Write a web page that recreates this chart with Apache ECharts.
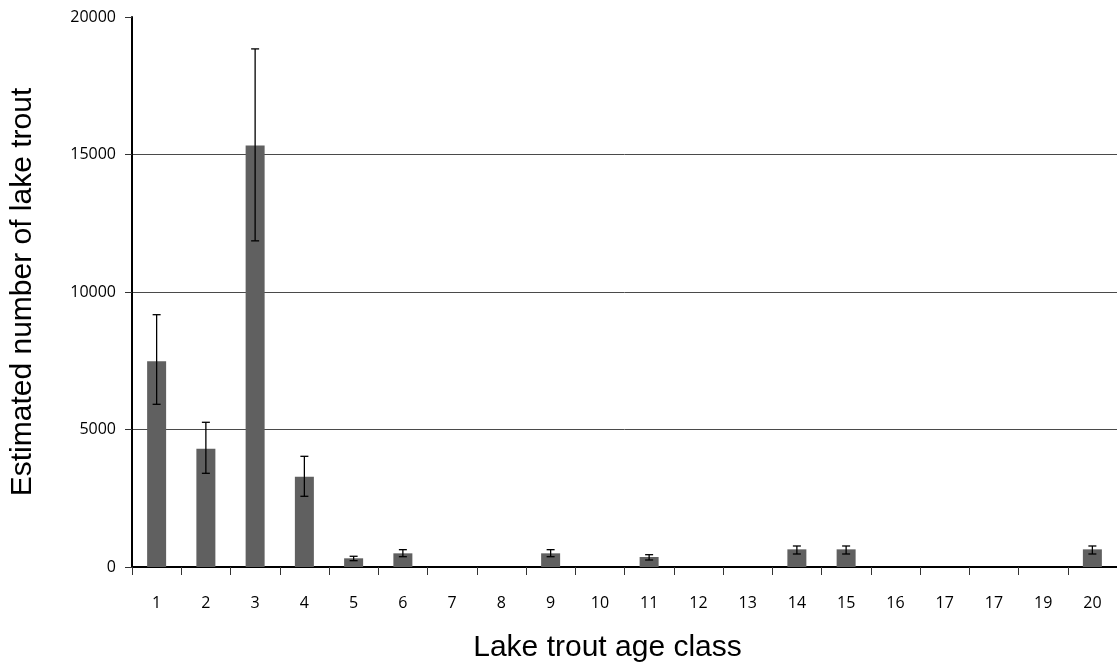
<!DOCTYPE html>
<html>
<head>
<meta charset="utf-8">
<script src="https://cdn.jsdelivr.net/npm/echarts@6/dist/echarts.min.js"></script>
<style>
html,body{margin:0;padding:0;background:#fff;}
#chart{width:1117px;height:666px;}
</style>
</head>
<body>
<div id="chart"></div>
<script>
const categories = ['1','2','3','4','5','6','7','8','9','10','11','12','13','14','15','16','17','17','19','20'];
const estimates  = [7480, 4300, 15330, 3280, 316, 497, 0, 0, 497, 0, 364, 0, 0, 642, 642, 0, 0, 0, 0, 642];
const lowerCI    = [5916, 3407, 11860, 2571, 230, 375, null, null, 375, null, 255, null, null, 473, 473, null, null, null, null, 473];
const upperCI    = [9175, 5262, 18840, 4025, 390, 630, null, null, 630, null, 448, null, null, 764, 764, null, null, null, null, 764];
const yTicks = [0, 5000, 10000, 15000, 20000];

const errData = [];
categories.forEach((c, i) => {
  if (lowerCI[i] != null && upperCI[i] != null) errData.push([i, lowerCI[i], upperCI[i]]);
});

const chart = echarts.init(document.getElementById('chart'));
chart.setOption({
  animation: false,
  backgroundColor: '#ffffff',
  grid: { left: 132, right: 0, top: 17, bottom: 99, containLabel: false, outerBoundsMode: 'none' },
  xAxis: {
    type: 'category',
    data: categories,
    name: 'Lake trout age class',
    nameLocation: 'middle',
    nameGap: 66,
    nameTextStyle: { fontFamily: 'Liberation Sans, Arial', fontSize: 30, color: '#000', padding: [0, 34, 0, 0] },
    axisLine: { lineStyle: { color: '#000', width: 2 } },
    axisTick: { show: true, length: 8, lineStyle: { color: '#333', width: 1 } },
    axisLabel: { fontFamily: 'Open Sans, Noto Sans, sans-serif', fontSize: 16, color: '#000', margin: 28, interval: 0 },
    splitLine: { show: false }
  },
  yAxis: {
    type: 'value',
    min: 0, max: 20000, interval: 5000,
    name: 'Estimated number of lake trout',
    nameLocation: 'middle',
    nameGap: 94,
    nameRotate: 90,
    nameTextStyle: { fontFamily: 'Liberation Sans, Arial', fontSize: 30, color: '#000' },
    axisLine: { show: true, lineStyle: { color: '#000', width: 2 } },
    axisTick: { show: true, length: 7, lineStyle: { color: '#333', width: 1 } },
    axisLabel: {
      fontFamily: 'Open Sans, Noto Sans, sans-serif', fontSize: 16, color: '#000', margin: 16,
      formatter: v => yTicks.includes(v) ? String(v) : ''
    },
    splitLine: { show: true, lineStyle: { color: ['#4a4a4a', '#4a4a4a', '#4a4a4a', '#4a4a4a', 'rgba(0,0,0,0)'], width: 1 } }
  },
  series: [
    {
      type: 'bar',
      data: estimates,
      barWidth: 19,
      itemStyle: { color: '#606060' },
      z: 2
    },
    {
      type: 'custom',
      data: errData,
      z: 5,
      renderItem: function (params, api) {
        const i = api.value(0);
        const lo = api.coord([i, api.value(1)]);
        const hi = api.coord([i, api.value(2)]);
        const hw = 4;
        const style = { stroke: '#000', lineWidth: 1.3 };
        return {
          type: 'group',
          children: [
            { type: 'line', shape: { x1: hi[0], y1: hi[1], x2: lo[0], y2: lo[1] }, style: style },
            { type: 'line', shape: { x1: hi[0] - hw, y1: hi[1], x2: hi[0] + hw, y2: hi[1] }, style: style },
            { type: 'line', shape: { x1: lo[0] - hw, y1: lo[1], x2: lo[0] + hw, y2: lo[1] }, style: style }
          ]
        };
      }
    }
  ]
});
</script>
</body>
</html>
